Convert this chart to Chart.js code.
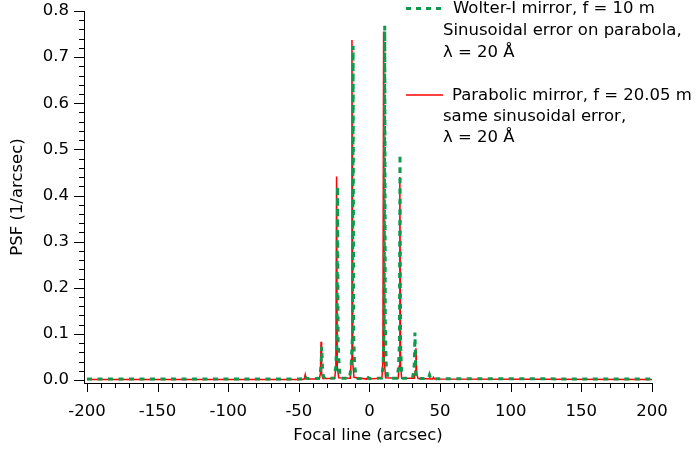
<!DOCTYPE html>
<html>
<head>
<meta charset="utf-8">
<script src="https://cdn.jsdelivr.net/npm/chart.js@4.4.1/dist/chart.umd.min.js"></script>
<style>
html,body{margin:0;padding:0;background:#fff;}
#wrap{width:696px;height:452px;position:relative;}
</style>
</head>
<body>
<div id="wrap"><canvas id="c" width="696" height="452"></canvas></div>
<script>
// ---- tick labels ----
const xTickValues = [-200, -150, -100, -50, 0, 50, 100, 150, 200];
const yTickValues = [0, 0.1, 0.2, 0.3, 0.4, 0.5, 0.6, 0.7, 0.8];
const xMinorStep = 10;
const yMinorStep = 0.02;

// ---- series: Wolter-I mirror (green dashed) ----
const wolterX = [-200, -50, -47, -45.6, -44.5, -36.2, -35.0, -34.3, -33.8, -33.3, -32.6, -31.5,
  -25.2, -24.0, -23.0, -22.6, -22.2, -21.4, -20.4,
  -14.2, -13.0, -12.0, -11.6, -11.2, -10.5, -9.4, -8.2,
  -1.5, -0.8, 0.0, 8.6, 9.6, 10.4, 10.8, 11.2, 11.9, 13.0,
  19.4, 20.5, 21.2, 21.6, 22.0, 22.7, 23.8,
  30.4, 31.4, 31.8, 32.2, 32.7, 33.6, 41.6, 42.5, 43.4, 200];
const wolterY = [0.002, 0.002, 0.003, 0.009, 0.003, 0.003, 0.012, 0.03, 0.072, 0.028, 0.008, 0.003,
  0.004, 0.025, 0.08, 0.42, 0.085, 0.025, 0.004,
  0.004, 0.028, 0.1, 0.724, 0.1, 0.03, 0.008, 0.003,
  0.003, 0.005, 0.003, 0.004, 0.03, 0.12, 0.768, 0.12, 0.03, 0.004,
  0.004, 0.025, 0.08, 0.489, 0.08, 0.02, 0.004,
  0.004, 0.02, 0.04, 0.103, 0.02, 0.003, 0.003, 0.011, 0.003, 0.002];

// ---- series: Parabolic mirror (red solid) ----
const paraX = [-200, -48, -46.2, -45.5, -44.8, -35.5, -34.7, -34.3, -33.9, -33.0,
  -24.6, -23.8, -23.3, -22.8, -21.8,
  -13.6, -12.9, -12.4, -11.9, -11.0,
  -2.0, -1.0, 0.0, 8.8, 9.5, 10.0, 10.5, 11.4,
  20.3, 21.0, 21.5, 22.0, 22.8,
  31.8, 32.4, 32.9, 33.4, 34.4, 44.6, 45.3, 46.0, 200];
const paraY = [0.001, 0.001, 0.002, 0.012, 0.002, 0.002, 0.015, 0.083, 0.015, 0.003,
  0.003, 0.03, 0.441, 0.03, 0.005,
  0.004, 0.045, 0.737, 0.04, 0.006,
  0.002, 0.006, 0.002, 0.004, 0.04, 0.755, 0.04, 0.005,
  0.004, 0.03, 0.44, 0.03, 0.004,
  0.004, 0.02, 0.069, 0.015, 0.003, 0.002, 0.006, 0.002, 0.001];

const legendWolter = ["Wolter-I mirror, f = 10 m", "Sinusoidal error on parabola,", "\u03BB = 20 \u00C5"];
const legendPara = ["Parabolic mirror, f = 20.05 m", "same sinusoidal error,", "\u03BB = 20 \u00C5"];

const GREEN = '#10994c';
const RED = '#ff0000';
const FONT = 'DejaVu Sans';
const FS = 16.5;

const toPts = (xs, ys) => xs.map((x, i) => ({x: x, y: ys[i]}));

// tick marks (major and minor) placed with the library's scales
const tickMarks = {
  id: 'tickMarks',
  afterDraw(chart) {
    const ctx = chart.ctx;
    const xs = chart.scales.x, ys = chart.scales.y;
    const a = chart.chartArea;
    const isMajor = (arr, v) => arr.some(t => Math.abs(t - v) < 1e-9);
    ctx.save();
    ctx.fillStyle = '#000000';
    const bottom = Math.round(a.bottom);
    const left = Math.round(a.left);
    const x0 = xTickValues[0], x1 = xTickValues[xTickValues.length - 1];
    for (let k = 0; x0 + k * xMinorStep <= x1 + 1e-9; k++) {
      const v = x0 + k * xMinorStep;
      const len = isMajor(xTickValues, v) ? 9 : 5;
      const px = Math.round(xs.getPixelForValue(v));
      ctx.fillRect(px, bottom, 1, len);
    }
    const y0 = yTickValues[0], y1 = yTickValues[yTickValues.length - 1];
    for (let k = 0; y0 + k * yMinorStep <= y1 + 1e-9; k++) {
      const v = y0 + k * yMinorStep;
      const len = isMajor(yTickValues, v) ? 10 : 5;
      const py = Math.round(ys.getPixelForValue(v));
      ctx.fillRect(left - len, py, len, 1);
    }
    ctx.restore();
  }
};

const textLegend = {
  id: 'textLegend',
  afterDraw(chart) {
    const ctx = chart.ctx;
    ctx.save();
    ctx.font = FS + 'px "' + FONT + '"';
    ctx.fillStyle = '#000';
    ctx.textBaseline = 'middle';
    ctx.textAlign = 'left';
    ctx.strokeStyle = GREEN;
    ctx.lineWidth = 3;
    ctx.setLineDash([5, 5]);
    ctx.beginPath();
    ctx.moveTo(406, 8.5);
    ctx.lineTo(445, 8.5);
    ctx.stroke();
    ctx.setLineDash([]);
    ctx.fillText(legendWolter[0], 453, 9);
    ctx.fillText(legendWolter[1], 443, 31);
    ctx.fillText(legendWolter[2], 443, 53);
    ctx.strokeStyle = RED;
    ctx.lineWidth = 1.5;
    ctx.beginPath();
    ctx.moveTo(406, 95);
    ctx.lineTo(443, 95);
    ctx.stroke();
    ctx.fillText(legendPara[0], 452, 96);
    ctx.fillText(legendPara[1], 443, 117);
    ctx.fillText(legendPara[2], 443, 138);
    ctx.restore();
  }
};

const font = {family: FONT, size: FS, lineHeight: 1.2};

new Chart(document.getElementById('c'), {
  type: 'line',
  data: {
    datasets: [
      {
        label: legendWolter.join(' '),
        data: toPts(wolterX, wolterY),
        borderColor: GREEN,
        borderWidth: 3,
        borderDash: [5, 5.5],
        pointRadius: 0,
        tension: 0,
        fill: false,
        order: 0
      },
      {
        label: legendPara.join(' '),
        data: toPts(paraX, paraY),
        borderColor: RED,
        borderWidth: 1.5,
        pointRadius: 0,
        tension: 0,
        fill: false,
        order: 1
      }
    ]
  },
  options: {
    responsive: false,
    devicePixelRatio: 1,
    animation: false,
    layout: {padding: {left: 0, right: 44, top: 11, bottom: 0}},
    plugins: {legend: {display: false}, tooltip: {enabled: false}},
    scales: {
      x: {
        type: 'linear',
        position: 'bottom',
        min: -202.1,
        max: 200,
        afterFit: s => { s.height = 69; s.paddingLeft = 0; s.paddingRight = 0; },
        afterBuildTicks: s => { s.ticks = xTickValues.map(v => ({value: v})); },
        ticks: {callback: v => String(v), font: font, color: '#000', padding: 10, maxRotation: 0, autoSkip: false},
        grid: {display: true, drawOnChartArea: false, drawTicks: true, tickLength: 9, tickColor: 'rgba(0,0,0,0)', color: 'rgba(0,0,0,0)'},
        border: {display: true, color: '#000', width: 1},
        title: {display: true, text: 'Focal line (arcsec)', font: font, color: '#000', padding: {top: 0, bottom: 6}}
      },
      y: {
        type: 'linear',
        min: -0.0065,
        max: 0.8,
        afterFit: s => { s.width = 84; s.paddingTop = 0; s.paddingBottom = 0; },
        afterBuildTicks: s => { s.ticks = yTickValues.map(v => ({value: v})); },
        ticks: {callback: v => Number(v).toFixed(1), font: font, color: '#000', padding: 5, autoSkip: false},
        grid: {display: true, drawOnChartArea: false, drawTicks: true, tickLength: 10, tickColor: 'rgba(0,0,0,0)', color: 'rgba(0,0,0,0)'},
        border: {display: true, color: '#000', width: 1},
        title: {display: true, text: 'PSF (1/arcsec)', font: font, color: '#000', padding: {top: 8, bottom: 0}}
      }
    }
  },
  plugins: [tickMarks, textLegend]
});
</script>
</body>
</html>
